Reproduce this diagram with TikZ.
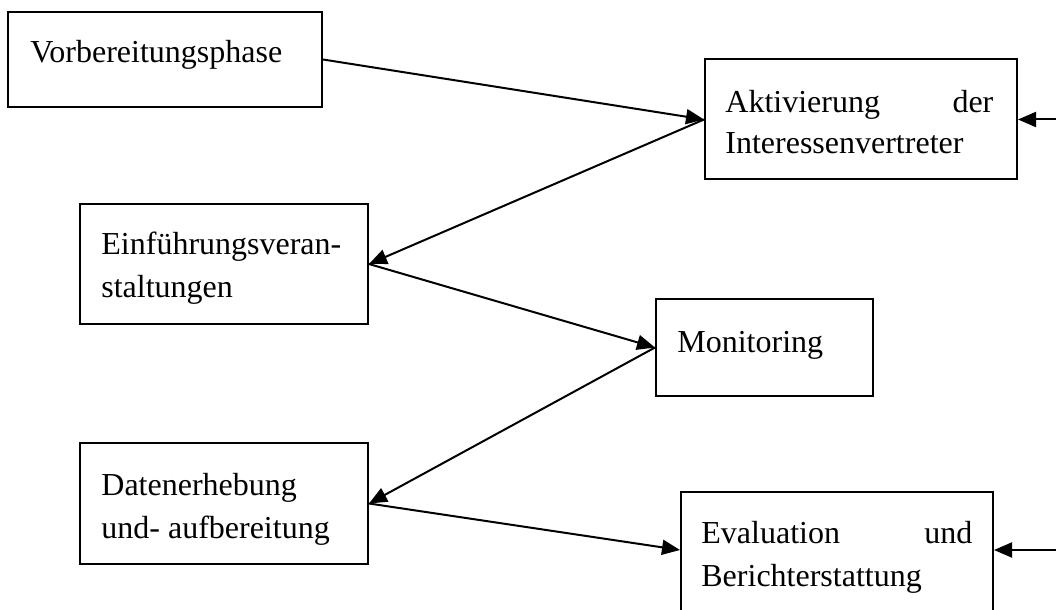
\documentclass[tikz,border=0pt]{standalone}
\usepackage{fontspec}
\setmainfont{Liberation Serif}
\usetikzlibrary{arrows.meta}
\begin{document}
\begin{tikzpicture}[x=0.5pt,y=-0.5pt,
  box/.style={draw,line width=1pt,rectangle,inner sep=0pt},
  txt/.style={anchor=base west,inner sep=0pt,font=\fontsize{16pt}{20pt}\selectfont},
  arr/.style={line width=1pt,-{Triangle[length=9pt,width=7.5pt]}}]
\clip (0,0) rectangle (1056,610);
\fill[white] (0,0) rectangle (1056,610);
% boxes
\node[box,minimum width=157pt,minimum height=47.5pt] (vorb) at (165,59.5) {};
\node[box,minimum width=156pt,minimum height=60pt] (akt) at (861,119.5) {};
\node[box,minimum width=144pt,minimum height=60pt] (einf) at (224,264) {};
\node[box,minimum width=108.5pt,minimum height=48.5pt] (moni) at (764.5,347.5) {};
\node[box,minimum width=144pt,minimum height=60.5pt] (daten) at (224,503.5) {};
\node[box,minimum width=156pt,minimum height=68pt] (eval) at (837,560) {};
% texts
\node[txt] (t1) at (30,63) {Vorbereitungsphase};
\node[txt] (t2a) at (725,113) {\makebox[134pt][s]{Aktivierung der}};
\node[txt] (t2b) at (725,154) {Interessenvertreter};
\node[txt] (t3a) at (101,255) {Einführungsveran-};
\node[txt] (t3b) at (101,298) {staltungen};
\node[txt] (t4) at (677,352) {Monitoring};
\node[txt] (t5a) at (101,495) {Datenerhebung};
\node[txt] (t5b) at (101,538) {und- aufbereitung};
\node[txt] (t6a) at (701,543) {\makebox[135.5pt][s]{Evaluation und}};
\node[txt] (t6b) at (701,586) {Berichterstattung};
% helper coordinates
\coordinate (evalW) at ([yshift=5pt]eval.west);
\coordinate (evalE) at ([yshift=5pt]eval.east);
\coordinate (rightA) at (1060,119.5);
\coordinate (rightE) at (1060,550);
% connectors
\draw[arr] (vorb.east) -- (akt.west);
\draw[arr] (akt.west) -- (einf.east);
\draw[arr] (einf.east) -- (moni.west);
\draw[arr] (moni.west) -- (daten.east);
\draw[arr] (daten.east) -- (evalW);
\draw[arr] (rightA) -- (akt.east);
\draw[arr] (rightE) -- (evalE);
\end{tikzpicture}
\end{document}
